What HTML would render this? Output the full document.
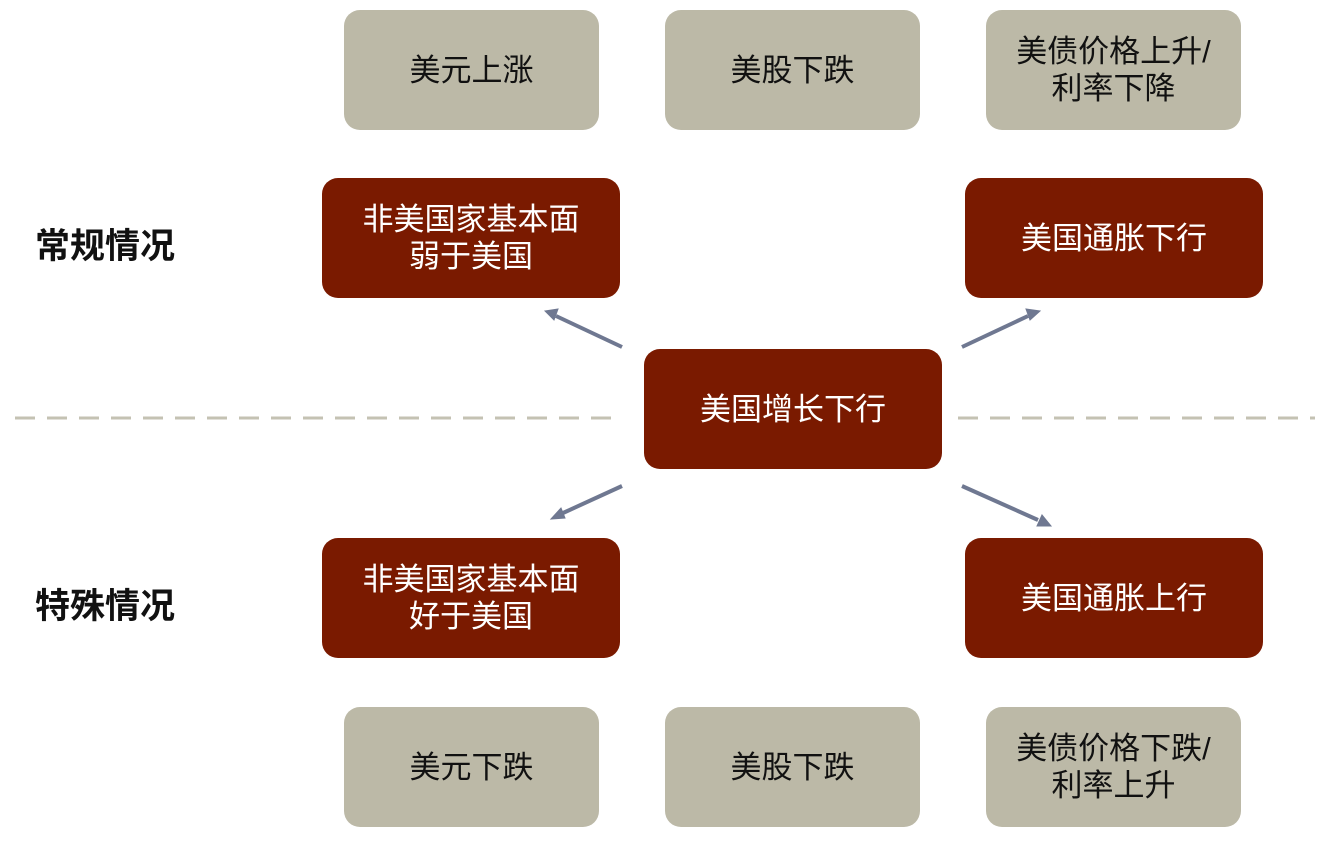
<!DOCTYPE html>
<html><head><meta charset="utf-8"><style>
body{margin:0;width:1320px;height:843px;background:#fff;position:relative;overflow:hidden;font-family:"Liberation Sans","Noto Sans CJK SC",sans-serif}
.b{position:absolute;display:flex;align-items:center;justify-content:center;text-align:center;border-radius:16px;font-size:31px;line-height:37px}
.g{background:#bcb9a7;color:#111;width:255px;height:120px}
.r{background:#7a1a00;color:#fff;width:298px;height:120px}
.l{position:absolute;left:35px;font-size:35px;font-weight:bold;color:#111}
</style></head><body>
<svg width="1320" height="843" style="position:absolute;left:0;top:0">
<line x1="15" y1="418" x2="615" y2="418" stroke="#c4c2b3" stroke-width="3" stroke-dasharray="20,12"/>
<line x1="958" y1="418" x2="1315" y2="418" stroke="#c4c2b3" stroke-width="3" stroke-dasharray="20,12"/>
<g stroke="#6f7891" stroke-width="4" fill="#6f7891">
<line x1="622" y1="347" x2="556" y2="316"/><polygon points="545,311 558,309 554,320" stroke-width="1"/>
<line x1="962" y1="347" x2="1028" y2="316"/><polygon points="1040,311 1030,320 1026,309" stroke-width="1"/>
<line x1="622" y1="486" x2="563" y2="513"/><polygon points="551,519 561,508 565,518" stroke-width="1"/>
<line x1="962" y1="486" x2="1038" y2="520"/><polygon points="1051,526 1037,526 1042,515" stroke-width="1"/>
</g></svg>
<div class="b g" style="left:344px;top:10px">美元上涨</div>
<div class="b g" style="left:665px;top:10px">美股下跌</div>
<div class="b g" style="left:986px;top:10px">美债价格上升/<br>利率下降</div>
<div class="b r" style="left:322px;top:178px">非美国家基本面<br>弱于美国</div>
<div class="b r" style="left:965px;top:178px">美国通胀下行</div>
<div class="b r" style="left:644px;top:349px">美国增长下行</div>
<div class="b r" style="left:322px;top:538px">非美国家基本面<br>好于美国</div>
<div class="b r" style="left:965px;top:538px">美国通胀上行</div>
<div class="b g" style="left:344px;top:707px">美元下跌</div>
<div class="b g" style="left:665px;top:707px">美股下跌</div>
<div class="b g" style="left:986px;top:707px">美债价格下跌/<br>利率上升</div>
<div class="l" style="top:218px">常规情况</div>
<div class="l" style="top:578px">特殊情况</div>
</body></html>
